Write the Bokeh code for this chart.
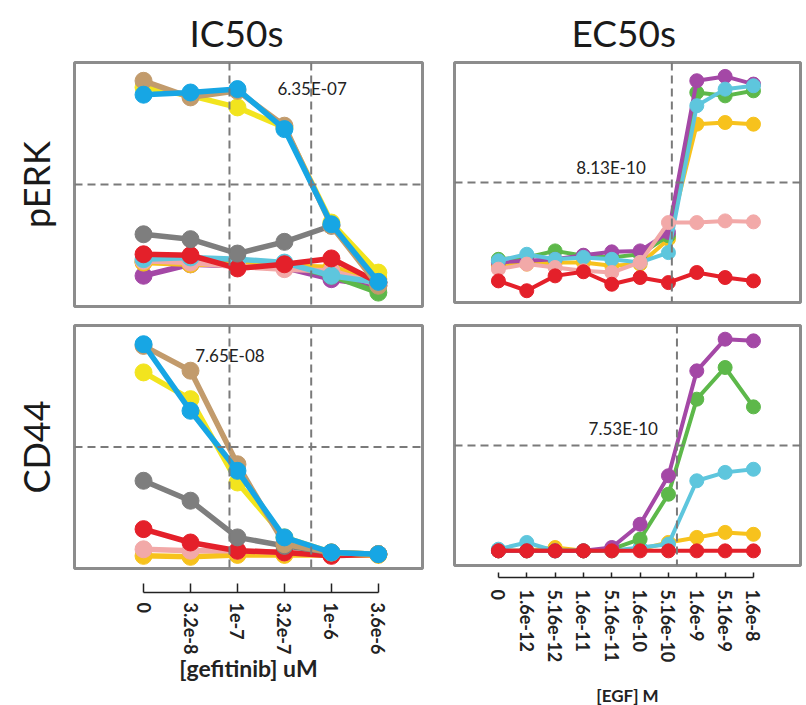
import math
from bokeh.plotting import figure
from bokeh.layouts import row, column
from bokeh.models import Range1d, Span, Label, FixedTicker
from bokeh.embed import file_html
from bokeh.resources import INLINE

# ---------------- data ----------------
ic50_ticks = ["0", "3.2e-8", "1e-7", "3.2e-7", "1e-6", "3.6e-6"]
ec50_ticks = ["0", "1.6e-12", "5.16e-12", "1.6e-11", "5.16e-11", "1.6e-10",
              "5.16e-10", "1.6e-9", "5.16e-9", "1.6e-8"]

ic50_values = [6.35e-07, 7.65e-08]      # pERK, CD44
ec50_values = [8.13e-10, 7.53e-10]      # pERK, CD44
ic50_line_pos = [1.83, 3.57]            # dashed verticals (tick-index units), both IC50 panels
ec50_line_pos = [6.12, 6.30]            # pERK, CD44 EC50 panels

# pERK vs gefitinib (normalized response)
perk_gef_purple = [0.126, 0.173, 0.167, 0.160, 0.112, 0.085]
perk_gef_green  = [0.183, 0.191, 0.180, 0.173, 0.126, 0.057]
perk_gef_orange = [0.180, 0.173, 0.173, 0.167, 0.160, 0.112]
perk_gef_pink   = [0.187, 0.180, 0.164, 0.153, 0.146, 0.091]
perk_gef_cyan   = [0.194, 0.201, 0.194, 0.180, 0.126, 0.098]
perk_gef_red    = [0.214, 0.210, 0.156, 0.173, 0.197, 0.098]
perk_gef_gray   = [0.296, 0.276, 0.217, 0.265, 0.331, 0.098]
perk_gef_yellow = [0.898, 0.864, 0.816, 0.734, 0.344, 0.139]
perk_gef_tan    = [0.925, 0.857, 0.884, 0.741, 0.331, 0.085]
perk_gef_blue   = [0.868, 0.877, 0.891, 0.727, 0.337, 0.101]

# CD44 vs gefitinib
cd44_gef_orange = [0.052, 0.048, 0.056, 0.056, 0.056, 0.056]
cd44_gef_pink   = [0.079, 0.073, 0.073, 0.066, 0.059, 0.059]
cd44_gef_red    = [0.162, 0.107, 0.073, 0.066, 0.052, 0.059]
cd44_gef_gray   = [0.361, 0.279, 0.128, 0.093, 0.066, 0.059]
cd44_gef_yellow = [0.807, 0.697, 0.354, 0.128, 0.066, 0.059]
cd44_gef_tan    = [0.916, 0.814, 0.429, 0.100, 0.066, 0.059]
cd44_gef_blue   = [0.923, 0.649, 0.402, 0.128, 0.066, 0.059]

# pERK vs EGF
perk_egf_gold   = [0.153, 0.160, 0.167, 0.167, 0.153, 0.160, 0.264, 0.743, 0.750, 0.743]
perk_egf_green  = [0.180, 0.188, 0.215, 0.195, 0.188, 0.201, 0.278, 0.875, 0.861, 0.882]
perk_egf_purple = [0.167, 0.174, 0.180, 0.197, 0.211, 0.215, 0.292, 0.924, 0.942, 0.910]
perk_egf_cyan   = [0.174, 0.201, 0.180, 0.188, 0.180, 0.167, 0.208, 0.820, 0.889, 0.903]
perk_egf_pink   = [0.139, 0.160, 0.146, 0.132, 0.125, 0.167, 0.333, 0.333, 0.340, 0.336]
perk_egf_red    = [0.090, 0.049, 0.111, 0.128, 0.076, 0.104, 0.083, 0.125, 0.104, 0.090]

# CD44 vs EGF
cd44_egf_gold   = [0.061, 0.061, 0.075, 0.061, 0.061, 0.068, 0.096, 0.117, 0.138, 0.130]
cd44_egf_cyan   = [0.068, 0.096, 0.061, 0.061, 0.061, 0.075, 0.089, 0.353, 0.388, 0.401]
cd44_egf_green  = [0.061, 0.061, 0.061, 0.061, 0.068, 0.110, 0.297, 0.693, 0.825, 0.661]
cd44_egf_purple = [0.061, 0.061, 0.061, 0.061, 0.075, 0.172, 0.374, 0.811, 0.943, 0.936]
cd44_egf_red    = [0.061, 0.061, 0.061, 0.061, 0.061, 0.061, 0.061, 0.061, 0.061, 0.061]

# ---------------- styles ----------------
COL = dict(tan="#C29B6C", yellow="#F2E41E", blue="#17A6E4", gray="#7E7E7E",
           red="#E4202A", cyan="#5EC6DD", orange="#F7C21D", gold="#F7C21D",
           pink="#F2A9A8", purple="#A448A6", green="#5DB84A")
FONT = "Lato"
FRAME = "#8C8C8C"
DASH = "#7A7A7A"

x_gef = list(range(len(ic50_ticks)))
x_egf = list(range(len(ec50_ticks)))
xr_gef = Range1d(-1.47, 5.94)
xr_egf = Range1d(-1.55, 10.66)


def panel(xr, fw, fh, left, right, top, bottom, ylabel=None, title=None, title_offset=0):
    p = figure(x_range=xr, y_range=Range1d(0, 1), frame_width=fw, frame_height=fh,
               min_border_left=left, min_border_right=right,
               min_border_top=top, min_border_bottom=bottom,
               output_backend="svg", toolbar_location=None,
               x_axis_location=None,
               y_axis_location="left" if ylabel else None)
    p.grid.visible = False
    p.outline_line_color = FRAME
    p.outline_line_width = 3
    p.background_fill_color = "white"
    p.border_fill_color = "white"
    if ylabel:
        ax = p.yaxis[0]
        ax.ticker = FixedTicker(ticks=[])
        ax.axis_line_color = None
        ax.major_tick_line_color = None
        ax.minor_tick_line_color = None
        ax.axis_label = ylabel
        ax.axis_label_text_font = FONT
        ax.axis_label_text_font_size = "36px"
        ax.axis_label_text_font_style = "normal"
        ax.axis_label_text_color = "#1a1a1a"
        ax.axis_label_standoff = 17
    if title:
        p.title.text = title
        p.title.align = "left"
        p.title.text_font = FONT
        p.title.text_font_size = "37px"
        p.title.text_font_style = "normal"
        p.title.text_color = "#1a1a1a"
        p.title.offset = title_offset
        p.title.standoff = 15
    return p


def axis_fig(xr, fw, fh, left, right, bottom, labels, label, tick_in, standoff,
             label_standoff, tick_size, label_size):
    p = figure(x_range=xr, y_range=Range1d(0, 1), frame_width=fw, frame_height=fh,
               min_border_left=left, min_border_right=right,
               min_border_top=0, min_border_bottom=bottom,
               output_backend="svg", toolbar_location=None,
               y_axis_location=None)
    p.grid.visible = False
    p.outline_line_color = None
    p.background_fill_color = "white"
    p.border_fill_color = "white"
    ax = p.xaxis[0]
    n = len(labels)
    ax.ticker = FixedTicker(ticks=list(range(n)))
    ax.major_label_overrides = {i: labels[i] for i in range(n)}
    ax.bounds = (0, n - 1)
    ax.axis_line_color = "#222222"
    ax.axis_line_width = 1.5
    ax.major_tick_line_color = "#222222"
    ax.major_tick_line_width = 1.5
    ax.major_tick_in = tick_in
    ax.major_tick_out = 0
    ax.minor_tick_line_color = None
    ax.major_label_orientation = -math.pi / 2
    ax.major_label_text_font = FONT
    ax.major_label_text_font_style = "bold"
    ax.major_label_text_font_size = tick_size
    ax.major_label_text_color = "#222222"
    ax.major_label_standoff = standoff
    ax.axis_label = label
    ax.axis_label_text_font = FONT
    ax.axis_label_text_font_style = "bold"
    ax.axis_label_text_font_size = label_size
    ax.axis_label_text_color = "#222222"
    ax.axis_label_standoff = label_standoff
    return p


def series(p, x, y, color, size, lw):
    p.line(x, y, line_color=color, line_width=lw)
    p.scatter(x, y, marker="circle", size=size, fill_color=color, line_color=color)


def dashed(p, vlines):
    p.add_layout(Span(location=0.5, dimension="width", line_color=DASH,
                      line_width=2, line_dash="8 5"))
    for v in vlines:
        p.add_layout(Span(location=v, dimension="height", line_color=DASH,
                          line_width=2, line_dash="8 5"))


def note(p, x, y, val):
    p.add_layout(Label(x=x, y=y, text=f"{val:.2E}", text_font=FONT,
                       text_font_size="17px", text_color="#222222",
                       text_align="left", text_baseline="middle"))


# ---------------- panels ----------------
tl = panel(xr_gef, 348, 244, 74, 14, 60, 9, ylabel="pERK", title="IC50s", title_offset=115)
dashed(tl, ic50_line_pos)
for ys, c in [(perk_gef_purple, "purple"), (perk_gef_green, "green"), (perk_gef_orange, "orange"),
              (perk_gef_pink, "pink"), (perk_gef_cyan, "cyan"), (perk_gef_red, "red"),
              (perk_gef_gray, "gray"), (perk_gef_yellow, "yellow"), (perk_gef_tan, "tan"),
              (perk_gef_blue, "blue")]:
    series(tl, x_gef, ys, COL[c], 17, 5.5)
note(tl, 2.85, 0.893, ic50_values[0])

bl = panel(xr_gef, 348, 243, 74, 14, 10, 2, ylabel="CD44")
dashed(bl, ic50_line_pos)
for ys, c in [(cd44_gef_orange, "orange"), (cd44_gef_pink, "pink"), (cd44_gef_red, "red"),
              (cd44_gef_gray, "gray"), (cd44_gef_yellow, "yellow"), (cd44_gef_tan, "tan"),
              (cd44_gef_blue, "blue")]:
    series(bl, x_gef, ys, COL[c], 17, 5.5)
note(bl, 1.1, 0.876, ic50_values[1])

axl = axis_fig(xr_gef, 348, 22, 74, 14, 100, ic50_ticks, "[gefitinib] uM", 9, 10, -3,
               "18px", "23px")

tr = panel(xr_egf, 346, 240, 18, 2, 60, 11, title="EC50s", title_offset=117)
dashed(tr, [ec50_line_pos[0]])
for ys, c in [(perk_egf_gold, "gold"), (perk_egf_green, "green"), (perk_egf_purple, "purple"),
              (perk_egf_cyan, "cyan"), (perk_egf_pink, "pink"), (perk_egf_red, "red")]:
    series(tr, x_egf, ys, COL[c], 14, 4)
note(tr, 2.75, 0.5625, ec50_values[0])

br = panel(xr_egf, 346, 240, 18, 2, 12, 2)
dashed(br, [ec50_line_pos[1]])
for ys, c in [(cd44_egf_gold, "gold"), (cd44_egf_cyan, "cyan"), (cd44_egf_green, "green"),
              (cd44_egf_purple, "purple"), (cd44_egf_red, "red")]:
    series(br, x_egf, ys, COL[c], 14, 4)
note(br, 3.18, 0.569, ec50_values[1])

axr = axis_fig(xr_egf, 346, 10, 18, 2, 118, ec50_ticks, "[EGF] M", 5, 12, 20,
               "18px", "17px")

layout = row(column(tl, bl, axl, spacing=0), column(tr, br, axr, spacing=0), spacing=0)

open("out.html", "w").write(file_html(layout, INLINE))
